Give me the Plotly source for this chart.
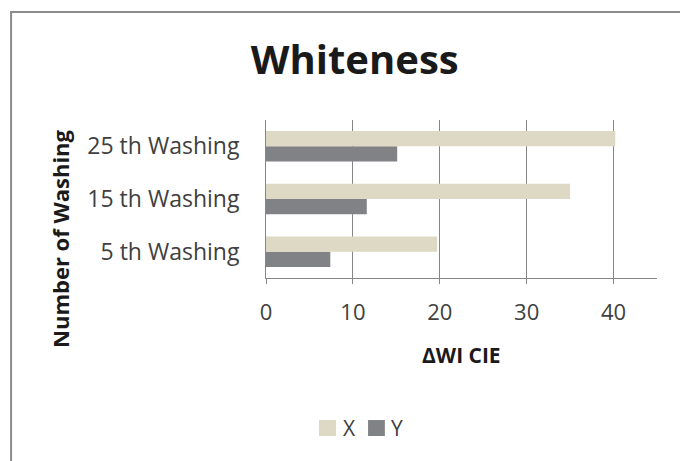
import plotly.graph_objects as go

categories = ["5 th Washing", "15 th Washing", "25 th Washing"]
x_values = [19.7, 35.0, 40.2]
y_values = [7.4, 11.6, 15.1]
x_ticks = [0, 10, 20, 30, 40]
series_names = ["X", "Y"]
series_colors = ["#DDD9C4", "#808285"]

FONT = "Open Sans, sans-serif"

fig = go.Figure()
fig.add_trace(go.Bar(y=categories, x=y_values, name=series_names[1], orientation="h",
                     marker=dict(color=series_colors[1], line=dict(width=0)), showlegend=False))
fig.add_trace(go.Bar(y=categories, x=x_values, name=series_names[0], orientation="h",
                     marker=dict(color=series_colors[0], line=dict(width=0)), showlegend=False))

# manual legend (larger square keys as in the reference)
legend_sq = [(0.1355, 0.179), (0.261, 0.304)]
legend_tx = [0.192, 0.315]
shapes = [dict(type="rect", xref="paper", yref="paper", x0=-0.652, x1=1.2, y0=-1.5, y1=1.684,
               line=dict(color="#8c8c8c", width=2), fillcolor="rgba(0,0,0,0)", layer="below")]
annotations = [
    dict(text="<b>Number of Washing</b>", xref="paper", yref="paper", x=-0.527, y=0.253,
         xanchor="center", yanchor="middle", textangle=-90, showarrow=False,
         font=dict(family=FONT, size=22, color="#1a1a1a")),
    dict(text="<b>ΔWI CIE</b>", xref="paper", yref="paper", x=0.5, y=-0.487,
         xanchor="center", yanchor="middle", showarrow=False,
         font=dict(family=FONT, size=21, color="#1a1a1a")),
]
for (x0, x1), tx, name, col in zip(legend_sq, legend_tx, series_names, series_colors):
    shapes.append(dict(type="rect", xref="paper", yref="paper", x0=x0, x1=x1, y0=-1.0, y1=-0.899,
                       line=dict(width=0), fillcolor=col))
    annotations.append(dict(text=name, xref="paper", yref="paper", x=tx, y=-0.949,
                            xanchor="left", yanchor="middle", showarrow=False,
                            font=dict(family=FONT, size=21, color="#404040")))

fig.update_layout(
    width=688, height=461,
    paper_bgcolor="white", plot_bgcolor="white",
    margin=dict(l=258, r=39, t=112, b=191, autoexpand=False),
    barmode="group", bargap=0.42, bargroupgap=0,
    font=dict(family=FONT, size=23, color="#404040"),
    title=dict(text="<b>Whiteness</b>", x=0.504, xanchor="center", y=0.887, yanchor="middle",
               font=dict(family=FONT, size=40, color="#1a1a1a")),
    showlegend=False,
    xaxis=dict(range=[0, 45], tickvals=x_ticks, showgrid=True, gridcolor="#868686", gridwidth=1,
               showline=True, linecolor="#868686", linewidth=1, ticks="outside", ticklen=5,
               tickcolor="#868686", zeroline=False, fixedrange=True, automargin=False,
               ticklabelstandoff=10, tickfont=dict(size=22)),
    yaxis=dict(showline=True, linecolor="#868686", linewidth=1, ticks="", showgrid=False,
               ticklabelstandoff=21, automargin=False, fixedrange=True),
    annotations=annotations,
    shapes=shapes,
)

fig.write_html("out.html")
